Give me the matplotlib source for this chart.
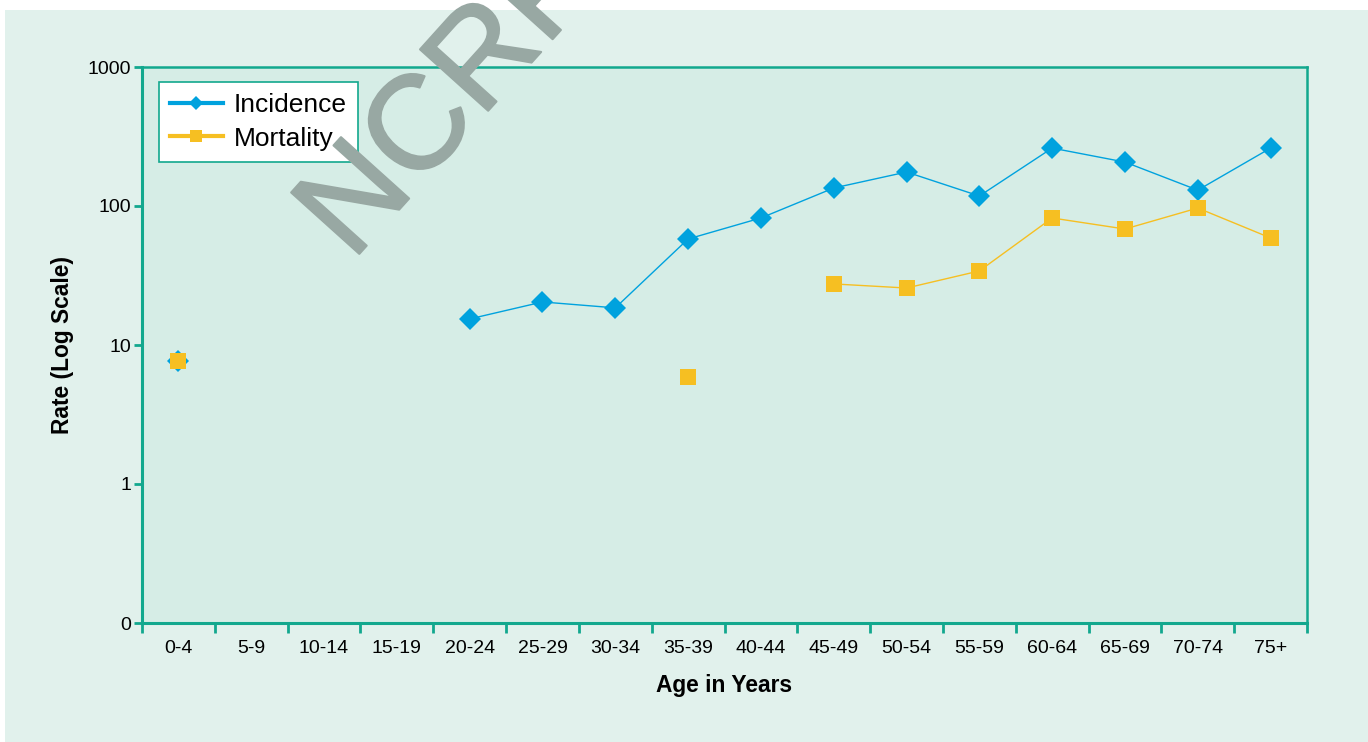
import numpy as np
import matplotlib
matplotlib.use("Agg")
import matplotlib.pyplot as plt
import matplotlib.patheffects as pe
from matplotlib.lines import Line2D
from matplotlib.patches import Rectangle

plt.rcParams['font.family'] = ['Liberation Sans', 'DejaVu Sans']

categories = ["0-4", "5-9", "10-14", "15-19", "20-24", "25-29", "30-34", "35-39",
              "40-44", "45-49", "50-54", "55-59", "60-64", "65-69", "70-74", "75+"]
incidence = [7.7, np.nan, np.nan, np.nan, 15.4, 20.4, 18.5, 57.9,
             82.0, 134.7, 175.6, 118.0, 261.0, 207.0, 130.0, 261.0]
mortality = [7.7, np.nan, np.nan, np.nan, np.nan, np.nan, np.nan, 5.9,
             np.nan, 27.5, 25.7, 34.1, 82.0, 68.3, 96.7, 58.9]
ytick_vals = [0.1, 1, 10, 100, 1000]
ytick_labels = ["0", "1", "10", "100", "1000"]

teal = "#12A88E"
blue = "#00A2DE"
gold = "#F6BF22"
wm = "#98A8A3"

W, H = 1368, 742
fig = plt.figure(figsize=(W / 100, H / 100), dpi=100, facecolor="white")
fig.patches.append(Rectangle((5 / W, 0), 1 - 5 / W, 1 - 10 / H, transform=fig.transFigure,
                             facecolor="#E1F1EC", edgecolor="none", zorder=-5))

ax = fig.add_axes([142 / W, 1 - 623 / H, (1307 - 142) / W, (623 - 67) / H])
ax.set_zorder(1)
ax.set_facecolor("#D6EDE6")

x = np.arange(len(categories))
ax.plot(x, incidence, color=blue, lw=1.0, marker="D", markersize=11.5,
        markeredgewidth=0, zorder=3)
ax.plot(x, mortality, color=gold, lw=1.0, marker="s", markersize=12,
        markeredgewidth=0, zorder=4)

ax.set_yscale("log")
ax.set_ylim(0.1, 1000)
ax.set_xlim(-0.5, len(categories) - 0.5)
ax.set_yticks(ytick_vals)
ax.set_yticklabels(ytick_labels)
ax.yaxis.set_minor_locator(matplotlib.ticker.NullLocator())
ax.set_xticks(x)
ax.set_xticklabels(categories)
ax.set_xticks(np.arange(-0.5, len(categories)), minor=True)

ax.tick_params(axis="x", which="major", length=0, pad=12, labelsize=14)
ax.tick_params(axis="x", which="minor", length=7, width=2, color=teal, direction="out")
ax.tick_params(axis="y", which="major", length=6, width=2, color=teal, pad=2, labelsize=14)

for side, sp in ax.spines.items():
    sp.set_color(teal)
    sp.set_linewidth(2.2 if side in ("left", "bottom") else 1.8)

ax.set_xlabel("Age in Years", fontsize=16.4, fontweight="bold", labelpad=12.5)
ax.set_ylabel("Rate (Log Scale)", fontsize=16.4, fontweight="bold", labelpad=10)

handles = [Line2D([], [], color=blue, lw=3, marker="D", markersize=7, markeredgewidth=0),
           Line2D([], [], color=gold, lw=3, marker="s", markersize=8.5, markeredgewidth=0)]
leg = ax.legend(handles, ["Incidence", "Mortality"], loc="upper left",
                bbox_to_anchor=(17 / 1165, 1 - 15 / 556), borderaxespad=0, fontsize=19,
                frameon=True, fancybox=False, framealpha=1, edgecolor=teal,
                handlelength=2.0, handletextpad=0.42, borderpad=0.42, labelspacing=0.36)
leg.get_frame().set_linewidth(1.2)

fig.text(352 / W, 1 - 262 / H, "NCRP", rotation=48, rotation_mode="anchor",
         ha="left", va="baseline", fontsize=96, color=wm, zorder=10,
         path_effects=[pe.withStroke(linewidth=1.5, foreground=wm)])

fig.savefig("out.png", dpi=100, facecolor=fig.get_facecolor())
